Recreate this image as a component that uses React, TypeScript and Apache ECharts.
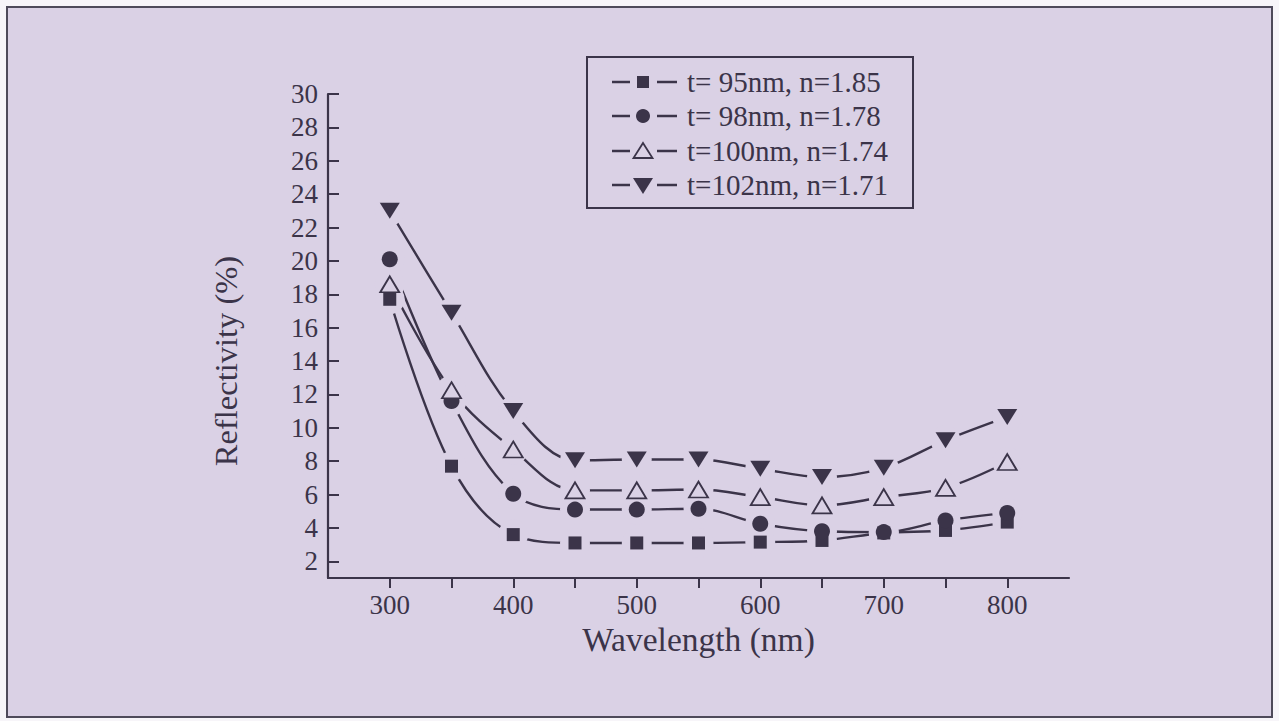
import React, { useEffect, useRef } from "react";
import * as echarts from "echarts";

// Wavelength (nm) on the x axis
const wavelengths = [300, 350, 400, 450, 500, 550, 600, 650, 700, 750, 800];

// Reflectivity (%) for each coating
const t95 = [17.7, 7.7, 3.6, 3.1, 3.1, 3.1, 3.15, 3.25, 3.7, 3.85, 4.35];
const t98 = [20.1, 11.6, 6.05, 5.1, 5.1, 5.15, 4.25, 3.8, 3.75, 4.45, 4.9];
const t100 = [18.6, 12.25, 8.7, 6.25, 6.25, 6.3, 5.85, 5.35, 5.85, 6.4, 7.95];
const t102 = [23.0, 16.9, 11.0, 8.05, 8.1, 8.1, 7.55, 7.05, 7.6, 9.25, 10.65];

const seriesNames = [
  "t= 95nm, n=1.85",
  "t= 98nm, n=1.78",
  "t=100nm, n=1.74",
  "t=102nm, n=1.71",
];

const xTicks = [300, 350, 400, 450, 500, 550, 600, 650, 700, 750, 800];
const xLabels = [300, 400, 500, 600, 700, 800];
const yTicks = [2, 4, 6, 8, 10, 12, 14, 16, 18, 20, 22, 24, 26, 28, 30];

const INK = "#3b3449";
const BG = "#dad1e5";
const FONT = '"Liberation Serif", "Times New Roman", serif';

type MarkerStyle = {
  symbol: string;
  size: number | number[];
  rotate?: number;
  hollow?: boolean;
};

const markerStyles: MarkerStyle[] = [
  { symbol: "rect", size: 13 },
  { symbol: "circle", size: 16 },
  { symbol: "triangle", size: [19, 16], hollow: true },
  { symbol: "triangle", size: [20, 16], rotate: 180 },
];

export default function App() {
  const ref = useRef<HTMLDivElement>(null);

  useEffect(() => {
    if (!ref.current) return;
    const chart = echarts.init(ref.current, undefined, { renderer: "svg" });

    const allValues = [t95, t98, t100, t102];
    const pairs = allValues.map((vals) => wavelengths.map((w, i) => [w, vals[i]]));

    const lineSeries = pairs.map((data, i) => ({
      name: seriesNames[i],
      type: "line",
      data,
      symbol: "none",
      smooth: 0.35,
      lineStyle: { color: INK, width: 2.4 },
      z: 2,
      silent: true,
    }));

    // background-coloured discs that open a small gap in the curve around each point
    const haloSeries = pairs.map((data) => ({
      type: "scatter",
      data,
      symbol: "circle",
      symbolSize: 30,
      itemStyle: { color: BG, opacity: 1 },
      z: 3,
      silent: true,
    }));

    const markerSeries = pairs.map((data, i) => {
      const m = markerStyles[i];
      return {
        type: "scatter",
        data,
        symbol: m.symbol,
        symbolSize: m.size,
        symbolRotate: m.rotate || 0,
        itemStyle: m.hollow
          ? { color: BG, borderColor: INK, borderWidth: 1.8, opacity: 1 }
          : { color: INK, opacity: 1 },
        z: 4,
        silent: true,
      };
    });

    // legend box drawn as graphics
    const legendRows = [82, 116, 151, 185];
    const mx = 643;
    const legendChildren: any[] = [
      {
        type: "rect",
        shape: { x: 587, y: 57, width: 326, height: 151 },
        style: { fill: "none", stroke: INK, lineWidth: 2 },
      },
    ];
    legendRows.forEach((y, i) => {
      legendChildren.push(
        { type: "line", shape: { x1: 612, y1: y, x2: 630, y2: y }, style: { stroke: INK, lineWidth: 2.5 } },
        { type: "line", shape: { x1: 657, y1: y, x2: 677, y2: y }, style: { stroke: INK, lineWidth: 2.5 } }
      );
      if (i === 0) {
        legendChildren.push({ type: "rect", shape: { x: mx - 6, y: y - 6, width: 12, height: 12 }, style: { fill: INK } });
      } else if (i === 1) {
        legendChildren.push({ type: "circle", shape: { cx: mx, cy: y, r: 7 }, style: { fill: INK } });
      } else if (i === 2) {
        legendChildren.push({
          type: "polygon",
          shape: { points: [[mx, y - 8], [mx + 9.5, y + 7], [mx - 9.5, y + 7]] },
          style: { fill: BG, stroke: INK, lineWidth: 1.8 },
        });
      } else {
        legendChildren.push({
          type: "polygon",
          shape: { points: [[mx - 10, y - 7], [mx + 10, y - 7], [mx, y + 9]] },
          style: { fill: INK },
        });
      }
      legendChildren.push({
        type: "text",
        x: 687,
        y,
        style: {
          text: seriesNames[i],
          fill: INK,
          font: `29px ${FONT}`,
          textAlign: "left",
          textVerticalAlign: "middle",
        },
      });
    });

    chart.setOption({
      animation: false,
      backgroundColor: "transparent",
      grid: { left: 328, right: 210, top: 94, bottom: 143, containLabel: false },
      xAxis: {
        type: "value",
        min: 250,
        max: 850,
        interval: 50,
        name: "Wavelength (nm)",
        nameLocation: "middle",
        nameGap: 37,
        nameTextStyle: { fontFamily: FONT, fontSize: 33.5, color: INK },
        axisLine: { lineStyle: { color: INK, width: 2.2 } },
        axisTick: {
          show: true,
          inside: false,
          length: 10,
          customValues: xTicks,
          lineStyle: { color: INK, width: 2 },
        },
        axisLabel: {
          customValues: xLabels,
          margin: 13,
          fontFamily: FONT,
          fontSize: 27,
          color: INK,
        },
        splitLine: { show: false },
      },
      yAxis: {
        type: "value",
        min: 1,
        max: 30,
        axisLine: { show: true, lineStyle: { color: INK, width: 2.2 } },
        axisTick: {
          show: true,
          inside: true,
          length: 11,
          customValues: yTicks,
          lineStyle: { color: INK, width: 2 },
        },
        axisLabel: {
          customValues: yTicks,
          margin: 10,
          fontFamily: FONT,
          fontSize: 27,
          color: INK,
        },
        splitLine: { show: false },
      },
      graphic: [
        {
          type: "text",
          x: 226,
          y: 361,
          rotation: Math.PI / 2,
          style: {
            text: "Reflectivity (%)",
            fill: INK,
            font: `32.5px ${FONT}`,
            textAlign: "center",
            textVerticalAlign: "middle",
          },
        },
        { type: "group", children: legendChildren },
      ],
      series: [...lineSeries, ...haloSeries, ...markerSeries],
    });

    return () => chart.dispose();
  }, []);

  return (
    <div
      style={{
        position: "absolute",
        left: 0,
        top: 0,
        width: 1279,
        height: 721,
        background: "#f7f5f9",
        overflow: "hidden",
      }}
    >
      <div
        style={{
          position: "absolute",
          left: 6,
          top: 6,
          width: 1267,
          height: 712,
          boxSizing: "border-box",
          border: "2.5px solid #4e4a5a",
          background: BG,
        }}
      />
      <div
        ref={ref}
        style={{ position: "absolute", left: 0, top: 0, width: 1279, height: 721 }}
      />
    </div>
  );
}
